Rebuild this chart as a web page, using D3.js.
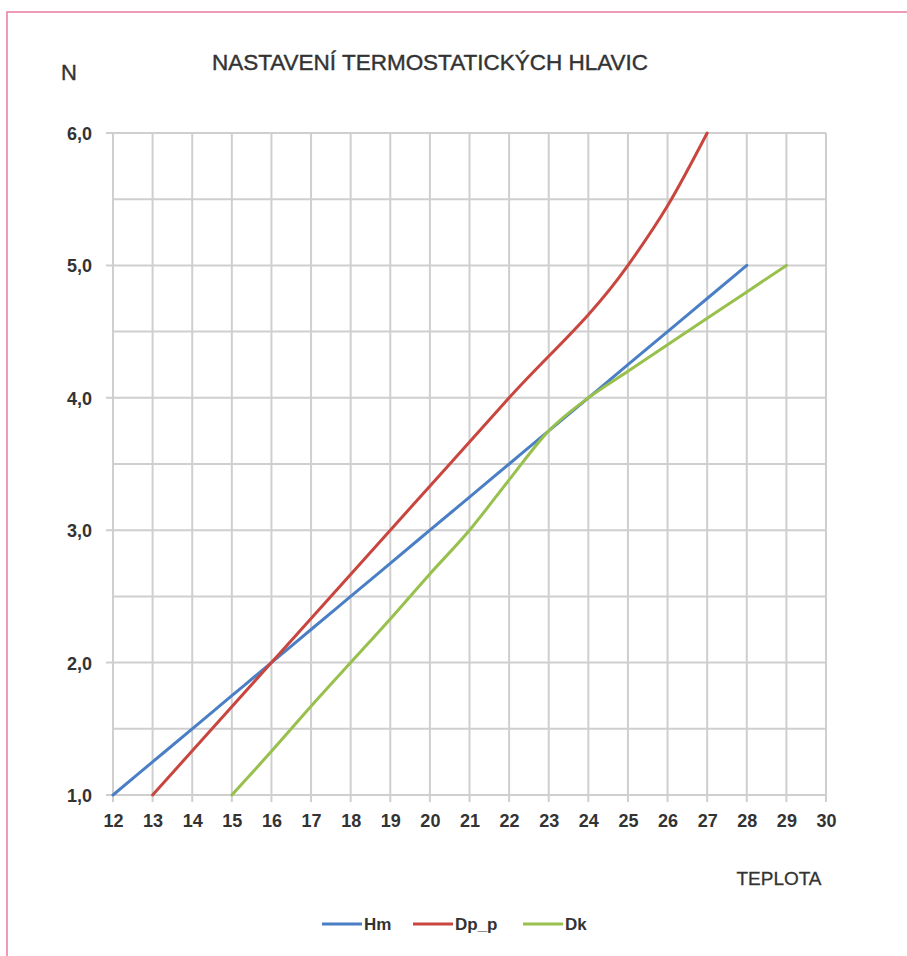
<!DOCTYPE html>
<html>
<head>
<meta charset="utf-8">
<script src="https://cdn.jsdelivr.net/npm/d3@7/dist/d3.min.js"></script>
<style>
  html, body { margin: 0; padding: 0; background: #fff; }
  svg { display: block; }
</style>
</head>
<body>
<div id="chart"></div>
<script>
// Thermostatic head setting (N) against room temperature
const hmTemp = [12, 13, 14, 15, 16, 17, 18, 19, 20, 21, 22, 23, 24, 25, 26, 27, 28];
const hmN    = [1.0, 1.25, 1.5, 1.75, 2.0, 2.25, 2.5, 2.75, 3.0, 3.25, 3.5, 3.75, 4.0, 4.25, 4.5, 4.75, 5.0];

const dpTemp = [13, 16, 19, 22, 25, 26, 27];
const dpN    = [1.0, 2.0, 3.0, 4.0, 5.0, 5.45, 6.0];

const dkTemp = [15, 16, 17, 18, 19, 20, 21, 22, 23, 24, 25, 26, 27, 28, 29];
const dkN    = [1.0, 1.33, 1.67, 2.0, 2.33, 2.67, 3.0, 3.38, 3.75, 4.0, 4.2, 4.4, 4.6, 4.8, 5.0];

const seriesNames  = ["Hm", "Dp_p", "Dk"];
const seriesColors = ["#4a7fc6", "#c9463f", "#98c04c"];

const xTicks = [12, 13, 14, 15, 16, 17, 18, 19, 20, 21, 22, 23, 24, 25, 26, 27, 28, 29, 30];
const yTicks = [1, 2, 3, 4, 5, 6];
const yGrid  = [1, 1.5, 2, 2.5, 3, 3.5, 4, 4.5, 5, 5.5, 6];

const W = 907, H = 956;
const svg = d3.select("#chart").append("svg").attr("width", W).attr("height", H);

// outer frame
svg.append("rect")
  .attr("x", 7).attr("y", 12).attr("width", 1000).attr("height", 1000)
  .attr("fill", "none").attr("stroke", "#ea7aa0").attr("stroke-width", 1.5);

const x = d3.scaleLinear().domain([12, 30]).range([113, 826]);
const y = d3.scaleLinear().domain([1, 6]).range([795, 133]);

const gridColor = "#cfcfcf";
const textColor = "#333";
const tickFont = "'Liberation Sans', Arial, sans-serif";
const narrowFont = "'Liberation Sans Narrow', 'Arial Narrow', sans-serif";

// grid
const grid = svg.append("g");
grid.selectAll("line.v").data(xTicks).join("line")
  .attr("x1", d => x(d)).attr("x2", d => x(d))
  .attr("y1", y(6)).attr("y2", y(1) + 7)
  .attr("stroke", gridColor).attr("stroke-width", 2);
grid.selectAll("line.h").data(yGrid).join("line")
  .attr("x1", d => yTicks.includes(d) ? x(12) - 7 : x(12)).attr("x2", x(30))
  .attr("y1", d => y(d)).attr("y2", d => y(d))
  .attr("stroke", gridColor).attr("stroke-width", 2);

// tick labels through d3 axes (grid draws the rules)
const xAxis = svg.append("g")
  .attr("transform", `translate(0,${y(1)})`)
  .call(d3.axisBottom(x).tickValues(xTicks).tickSize(0).tickPadding(24).tickFormat(d3.format("d")));
const yAxis = svg.append("g")
  .attr("transform", `translate(${x(12)},0)`)
  .call(d3.axisLeft(y).tickValues(yTicks).tickSize(0).tickPadding(21)
        .tickFormat(d => d3.format(".1f")(d).replace(".", ",")));
[xAxis, yAxis].forEach(a => {
  a.select(".domain").remove();
  a.selectAll("text")
    .attr("fill", textColor)
    .style("font-family", tickFont)
    .style("font-weight", "bold")
    .style("font-size", "18px");
});
yAxis.selectAll("text").attr("dy", "0.36em");
xAxis.selectAll("text").attr("dy", "0.45em");

// series lines (smoothed)
const line = d3.line().x(d => x(d[0])).y(d => y(d[1])).curve(d3.curveMonotoneX);
const seriesData = [
  d3.zip(hmTemp, hmN),
  d3.zip(dpTemp, dpN),
  d3.zip(dkTemp, dkN)
];
svg.append("g").selectAll("path").data(seriesData).join("path")
  .attr("d", line)
  .attr("fill", "none")
  .attr("stroke", (d, i) => seriesColors[i])
  .attr("stroke-width", 3)
  .attr("stroke-linecap", "round")
  .attr("stroke-linejoin", "round");

// title and axis titles
svg.append("text")
  .attr("x", 430).attr("y", 70)
  .attr("text-anchor", "middle")
  .attr("fill", textColor).attr("stroke", textColor).attr("stroke-width", 0.4)
  .style("font-family", narrowFont).style("font-size", "22px")
  .attr("textLength", 436).attr("lengthAdjust", "spacingAndGlyphs")
  .text("NASTAVENÍ TERMOSTATICKÝCH HLAVIC");

svg.append("text")
  .attr("x", 69).attr("y", 80)
  .attr("text-anchor", "middle")
  .attr("fill", textColor).attr("stroke", textColor).attr("stroke-width", 0.4)
  .style("font-family", narrowFont).style("font-size", "22px")
  .text("N");

svg.append("text")
  .attr("x", 779).attr("y", 885)
  .attr("text-anchor", "middle")
  .attr("fill", textColor).attr("stroke", textColor).attr("stroke-width", 0.3)
  .style("font-family", narrowFont).style("font-size", "19px")
  .attr("textLength", 85).attr("lengthAdjust", "spacingAndGlyphs")
  .text("TEPLOTA");

// legend
const legendX = [322, 413, 523];
const legend = svg.append("g").selectAll("g").data(seriesNames).join("g")
  .attr("transform", (d, i) => `translate(${legendX[i]},924)`);
legend.append("line")
  .attr("x1", 0).attr("x2", 40).attr("y1", 0).attr("y2", 0)
  .attr("stroke", (d, i) => seriesColors[i]).attr("stroke-width", 3);
legend.append("text")
  .attr("x", 42).attr("y", 0).attr("dy", "0.36em")
  .attr("fill", textColor)
  .style("font-family", tickFont).style("font-weight", "bold").style("font-size", "17px")
  .text(d => d);
</script>
</body>
</html>
